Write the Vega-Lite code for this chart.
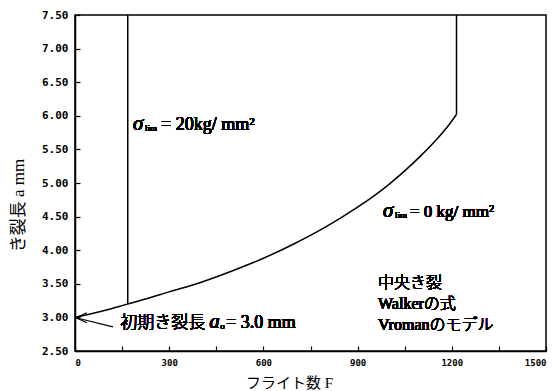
{
  "$schema": "https://vega.github.io/schema/vega-lite/v6.json",
  "autosize": "none",
  "width": 471,
  "height": 336,
  "padding": {"left": 75, "top": 15, "right": 6, "bottom": 40},
  "background": "white",
  "config": {
    "view": {"stroke": "black", "strokeWidth": 1.5},
    "axis": {"domainColor": "black", "tickColor": "black", "labelColor": "black", "titleColor": "black", "grid": false, "domainWidth": 1.5, "tickWidth": 1.2},
    "text": {"fontWeight": "normal", "color": "black"}
  },
  "datasets": {
    "curve": [
      {"s": "0", "F": 0, "a": 3.0},
      {"s": "0", "F": 100, "a": 3.11},
      {"s": "0", "F": 168, "a": 3.2},
      {"s": "0", "F": 200, "a": 3.24},
      {"s": "0", "F": 300, "a": 3.38},
      {"s": "0", "F": 400, "a": 3.52},
      {"s": "0", "F": 500, "a": 3.69},
      {"s": "0", "F": 600, "a": 3.88},
      {"s": "0", "F": 700, "a": 4.1},
      {"s": "0", "F": 800, "a": 4.35},
      {"s": "0", "F": 900, "a": 4.64},
      {"s": "0", "F": 950, "a": 4.8},
      {"s": "0", "F": 1000, "a": 4.98},
      {"s": "0", "F": 1050, "a": 5.18},
      {"s": "0", "F": 1100, "a": 5.4},
      {"s": "0", "F": 1150, "a": 5.64},
      {"s": "0", "F": 1190, "a": 5.86},
      {"s": "0", "F": 1215, "a": 6.02}
    ],
    "verticals": [
      {"g": "v0", "j": 0, "F": 1215, "a": 6.02},
      {"g": "v0", "j": 1, "F": 1215, "a": 7.5},
      {"g": "v20", "j": 0, "F": 168, "a": 3.2},
      {"g": "v20", "j": 1, "F": 168, "a": 7.5}
    ],
    "arrow": [
      {"g": "arrow", "j": 0, "F": 121, "a": 2.86},
      {"g": "arrow", "j": 1, "F": 3, "a": 2.995},
      {"g": "head", "j": 0, "F": 38, "a": 3.07},
      {"g": "head", "j": 1, "F": 3, "a": 2.995},
      {"g": "head", "j": 2, "F": 38, "a": 2.92}
    ]
  },
  "data": {"name": "curve"},
  "encoding": {
    "x": {"field": "F", "type": "quantitative", "scale": {"domain": [0, 1500], "nice": false, "zero": false},
      "axis": {"values": [0,150,300,450,600,750,900,1050,1200,1350,1500], "labelExpr": "datum.value % 300 == 0 ? format(datum.value, 'd') : ''", "labelOverlap": false,
        "tickSize": -5, "labelPadding": 12, "labelFont": "DejaVu Sans Mono", "labelFontWeight": "bold", "labelFontSize": 9,
        "title": "フライト数 F", "titleFont": "Liberation Serif, Noto Sans CJK JP", "titleFontSize": 15, "titleFontWeight": "normal",
        "titleX": 214, "titleY": 31, "titleBaseline": "middle", "titleAnchor": null, "titleAlign": "center"}},
    "y": {"field": "a", "type": "quantitative", "scale": {"domain": [2.5, 7.5], "nice": false, "zero": false},
      "axis": {"values": [2.5,3,3.5,4,4.5,5,5.5,6,6.5,7,7.5], "labelExpr": "format(datum.value, '.2f')", "labelOverlap": false, "labelBound": false,
        "tickSize": -5, "labelPadding": 12, "labelFont": "DejaVu Sans Mono", "labelFontWeight": "bold", "labelFontSize": 11,
        "title": "き裂長 a mm", "titleFont": "Liberation Serif, Noto Sans CJK JP", "titleFontSize": 17, "titleFontWeight": "normal",
        "titleX": -57, "titleY": 190, "titleAngle": -90, "titleAlign": "center", "titleBaseline": "middle", "titleAnchor": null}}
  },
  "layer": [
    {
      "mark": {"type": "line", "color": "black", "strokeWidth": 1.5, "interpolate": "monotone"},
      "encoding": {"detail": {"field": "s"}}
    },
    {
      "data": {"name": "verticals"},
      "mark": {"type": "line", "color": "black", "strokeWidth": 1.5},
      "encoding": {"detail": {"field": "g"}, "order": {"field": "j"}}
    },
    {
      "data": {"name": "arrow"},
      "mark": {"type": "line", "color": "black", "strokeWidth": 1.2},
      "encoding": {"detail": {"field": "g"}, "order": {"field": "j"}}
    },
    {
      "mark": {"type": "text", "text": "σ", "font": "Liberation Serif", "fontStyle": "italic", "fontSize": 21, "align": "left", "baseline": "middle", "dy": -1},
      "encoding": {"x": {"datum": 185}, "y": {"datum": 5.86}}
    },
    {
      "mark": {"type": "text", "text": "lim", "font": "Liberation Serif", "fontSize": 9, "align": "left", "baseline": "middle", "dx": 12, "dy": 3},
      "encoding": {"x": {"datum": 185}, "y": {"datum": 5.86}}
    },
    {
      "mark": {"type": "text", "text": "= 20kg/ mm²", "font": "Liberation Serif", "fontSize": 18, "align": "left", "baseline": "middle", "dx": 28},
      "encoding": {"x": {"datum": 185}, "y": {"datum": 5.86}}
    },
    {
      "mark": {"type": "text", "text": "σ", "font": "Liberation Serif", "fontStyle": "italic", "fontSize": 21, "align": "left", "baseline": "middle", "dy": -1},
      "encoding": {"x": {"datum": 981}, "y": {"datum": 4.57}}
    },
    {
      "mark": {"type": "text", "text": "lim", "font": "Liberation Serif", "fontSize": 9, "align": "left", "baseline": "middle", "dx": 12, "dy": 3},
      "encoding": {"x": {"datum": 981}, "y": {"datum": 4.57}}
    },
    {
      "mark": {"type": "text", "text": "= 0 kg/ mm²", "font": "Liberation Serif", "fontSize": 17, "align": "left", "baseline": "middle", "dx": 27},
      "encoding": {"x": {"datum": 981}, "y": {"datum": 4.57}}
    },
    {
      "mark": {"type": "text", "text": "初期き裂長", "font": "Liberation Serif, Noto Sans CJK JP", "fontSize": 17, "fontWeight": 300, "align": "left", "baseline": "middle"},
      "encoding": {"x": {"datum": 144}, "y": {"datum": 2.91}}
    },
    {
      "mark": {"type": "text", "text": "a", "font": "Liberation Serif", "fontStyle": "italic", "fontSize": 21, "align": "left", "baseline": "middle", "dx": 89, "dy": -1},
      "encoding": {"x": {"datum": 144}, "y": {"datum": 2.91}}
    },
    {
      "mark": {"type": "text", "text": "o", "font": "Liberation Serif", "fontSize": 9, "align": "left", "baseline": "middle", "dx": 100, "dy": 3},
      "encoding": {"x": {"datum": 144}, "y": {"datum": 2.91}}
    },
    {
      "mark": {"type": "text", "text": "= 3.0 mm", "font": "Liberation Serif", "fontSize": 18, "align": "left", "baseline": "middle", "dx": 106},
      "encoding": {"x": {"datum": 144}, "y": {"datum": 2.91}}
    },
    {
      "mark": {"type": "text", "text": ["中央き裂", "Walkerの式", "Vromanのモデル"], "font": "Liberation Serif, Noto Sans CJK JP", "fontSize": 16, "fontWeight": 300, "lineHeight": 21, "align": "left", "baseline": "middle"},
      "encoding": {"x": {"datum": 965}, "y": {"datum": 3.51}}
    }
  ]
}
